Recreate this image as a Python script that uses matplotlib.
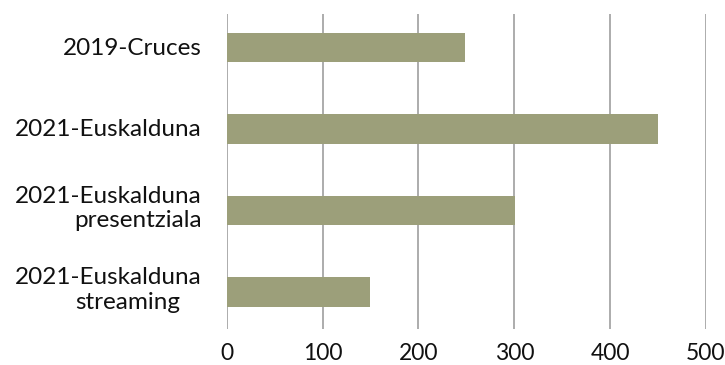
import matplotlib.pyplot as plt

# categories top to bottom: (first line, second line)
first_lines = ["2019-Cruces", "2021-Euskalduna", "2021-Euskalduna", "2021-Euskalduna"]
second_lines = ["", "", "presentziala", "streaming"]
values = [249, 450, 301, 150]
xticks = [0, 100, 200, 300, 400, 500]

bar_color = "#9c9f7a"
grid_color = "#a6a6a6"
fsize = 17.5

plt.rcParams["font.family"] = ["Lato", "DejaVu Sans"]

fig = plt.figure(figsize=(7.25, 3.65), dpi=100)
ax = fig.add_axes([0.3127, 0.0986, 0.6611, 0.863])

ypos = list(range(len(values)))
ax.barh(ypos, values, height=0.36, color=bar_color, zorder=2)

ax.set_xlim(0, 500)
ax.set_ylim(3.452, -0.408)
ax.set_xticks(xticks)
ax.set_xticklabels([str(t) for t in xticks], fontsize=16.5, color="#111111")
ax.tick_params(axis="x", length=0, pad=10)
ax.set_yticks([])
ax.grid(axis="x", color=grid_color, linewidth=1.3, zorder=1)
for s in ax.spines.values():
    s.set_visible(False)

# category labels drawn line by line, like the original layout
ytrans = ax.get_yaxis_transform()
for i, (l1, l2) in enumerate(zip(first_lines, second_lines)):
    if l2:
        ax.annotate(l1, xy=(0, i), xycoords=ytrans, xytext=(-25, 8),
                    textcoords="offset pixels", ha="right", va="baseline",
                    fontsize=fsize, color="#111111", annotation_clip=False)
        ax.annotate(l2, xy=(0, i), xycoords=ytrans, xytext=(-152, -16.5),
                    textcoords="offset pixels", ha="left", va="baseline",
                    fontsize=fsize, color="#111111", annotation_clip=False)
    else:
        ax.annotate(l1, xy=(0, i), xycoords=ytrans, xytext=(-25, -7.5),
                    textcoords="offset pixels", ha="right", va="baseline",
                    fontsize=fsize, color="#111111", annotation_clip=False)

fig.savefig("out.png", dpi=100)
